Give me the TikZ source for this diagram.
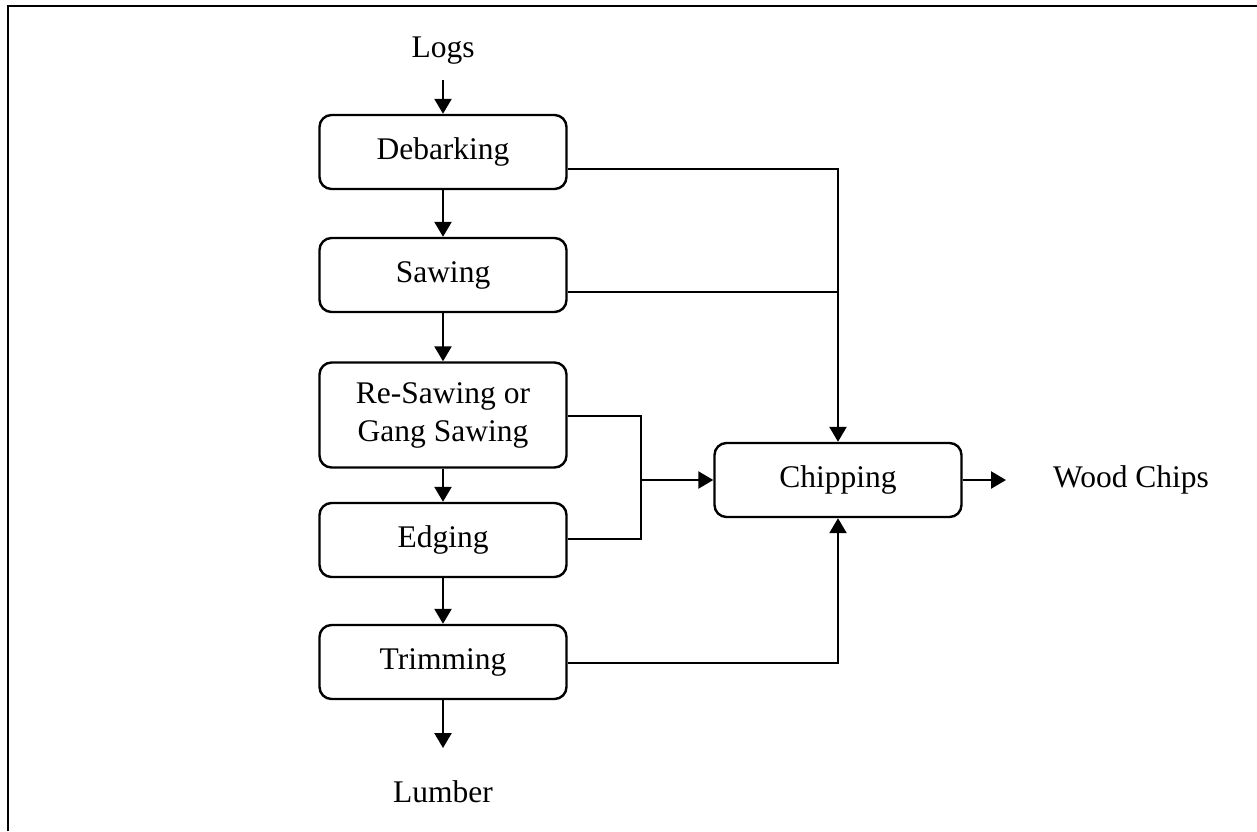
\documentclass[tikz,border=0pt]{standalone}
\usepackage{fontspec}
\setmainfont{Liberation Serif}
\usetikzlibrary{arrows.meta}
\begin{document}
\begin{tikzpicture}[x=1pt,y=-1pt,line width=2.4pt,
  proc/.style={draw,rounded corners=12pt,minimum width=247pt,minimum height=74pt,align=center,inner sep=0pt,font=\fontsize{31.5}{38}\selectfont},
  lbl/.style={inner sep=0pt,font=\fontsize{31.5}{38}\selectfont},
  arr/.style={-{Triangle[length=15pt,width=17pt]}}]
\useasboundingbox (0,0) rectangle (1257,831);
\draw (8,831) -- (8,6) -- (1257,6);
\node[proc] (deb) at (443,152) {Debarking};
\node[proc] (saw) at (443,275) {Sawing};
\node[proc,minimum height=105pt] (res) at (443,415) {Re-Sawing or\\Gang Sawing};
\node[proc] (edg) at (443,540) {Edging};
\node[proc] (trim) at (443,662) {Trimming};
\node[proc] (chip) at (838,480) {Chipping};
\node[lbl,anchor=base] (logs) at (443,57) {Logs};
\node[lbl,anchor=base] (lum) at (443,802) {Lumber};
\node[lbl] (wc) at (1131,480) {Wood Chips};
\coordinate (logsend) at (443,80);
\coordinate (lumend) at (443,748);
\coordinate (wcend) at (1006,480);
\coordinate (jd) at (838,169);
\coordinate (js) at (838,292);
\coordinate (jr) at (641,416);
\coordinate (je) at (641,539);
\coordinate (jm) at (641,480);
\coordinate (jt) at (838,663);
\draw[arr] (logsend) -- (deb.north);
\draw[arr] (deb.south) -- (saw.north);
\draw[arr] (saw.south) -- (res.north);
\draw[arr] (res.south) -- (edg.north);
\draw[arr] (edg.south) -- (trim.north);
\draw[arr] (trim.south) -- (lumend);
\draw[arr] (chip.east) -- (wcend);
\draw[arr] (deb.east |- jd) -- (jd) -- (chip.north);
\draw (saw.east |- js) -- (js);
\draw (res.east |- jr) -- (jr) -- (je) -- (edg.east |- je);
\draw[arr] (jm) -- (chip.west);
\draw[arr] (trim.east |- jt) -- (jt) -- (chip.south);
\end{tikzpicture}
\end{document}
